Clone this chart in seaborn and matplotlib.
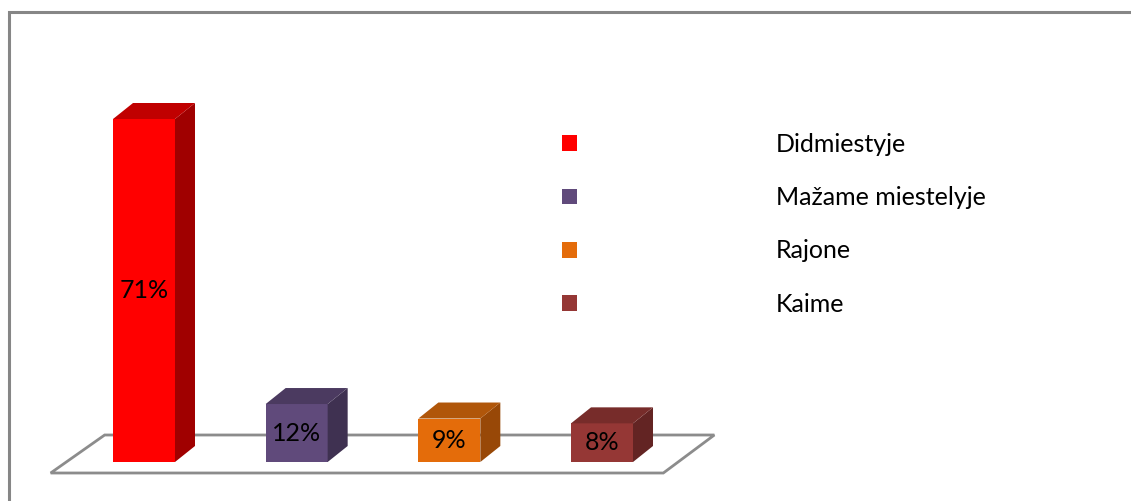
import matplotlib
matplotlib.use("Agg")
import matplotlib.pyplot as plt
import matplotlib.patches as mpatches
import matplotlib.transforms as mtransforms
import seaborn as sns

# ---- data ----
categories = ["Didmiestyje", "Mažame miestelyje", "Rajone", "Kaime"]
values = [71, 12, 9, 8]
labels = ["71%", "12%", "9%", "8%"]

# ---- styles ----
front_colors = ["#FF0000", "#604A7B", "#E46C0A", "#953735"]
side_colors = ["#A00000", "#3F3151", "#984807", "#632423"]
top_colors = ["#C00000", "#4B3A60", "#B0560A", "#772C2A"]

sns.set_theme(style="white")
plt.rcParams["font.family"] = ["Lato", "DejaVu Sans"]

W, H = 1131, 501
fig = plt.figure(figsize=(W / 100, H / 100), dpi=100)
step = 152.67
left_px = 144 - 0.5 * step
ppu = 343 / 71.0
ymax = 80
ax = fig.add_axes([left_px / W, 39 / H, 4 * step / W, ymax * ppu / H])
ax.set_zorder(2)
ax.patch.set_visible(False)

sns.barplot(x=categories, y=values, hue=categories, palette=front_colors,
            width=0.406, legend=False, ax=ax, saturation=1, zorder=3,
            edgecolor="none", linewidth=0)
ax.set_xlim(-0.5, 3.5)
ax.set_ylim(0, ymax)
ax.axis("off")

ident = mtransforms.IdentityTransform()
dx, dy = 20, 16
bars = ax.patches[:len(values)]
fs_lab = 18
for i, p in enumerate(bars):
    bb = p.get_window_extent()
    x0, x1, yb, yt = bb.x0, bb.x1, bb.y0, bb.y1
    side = mpatches.Polygon([(x1, yb), (x1 + dx, yb + dy), (x1 + dx, yt + dy), (x1, yt)],
                            closed=True, transform=ident, facecolor=side_colors[i],
                            edgecolor="none", zorder=3)
    top = mpatches.Polygon([(x0, yt), (x1, yt), (x1 + dx, yt + dy), (x0 + dx, yt + dy)],
                           closed=True, transform=ident, facecolor=top_colors[i],
                           edgecolor="none", zorder=3)
    ax.add_artist(side)
    ax.add_artist(top)
    ax.text(p.get_x() + p.get_width() / 2, values[i] / 2, labels[i],
            ha="center", va="center", fontsize=fs_lab, color="#000000", zorder=5)

# floor
abb = ax.get_window_extent()
fy = abb.y0 - 11
floor = mpatches.Polygon([(abb.x0 - 17, fy), (abb.x1 - 15, fy), (abb.x1 + 36, fy + 38),
                          (abb.x0 + 37, fy + 38)], closed=True, transform=ident,
                         facecolor="white", edgecolor="#8C8C8C", linewidth=2, zorder=1)
fig.add_artist(floor)

# chart frame (partly outside the figure)
frame = mpatches.Rectangle((9, -10), 1200, 499, transform=ident, facecolor="none",
                           edgecolor="#868686", linewidth=2.2, zorder=0)
fig.add_artist(frame)

# legend
handles = [mpatches.Patch(facecolor=c, edgecolor="none") for c in front_colors]
fs = 18
fpx = fs * 100 / 72
fig.legend(handles, categories, loc="upper left",
           bbox_to_anchor=(562 / W, 1 - 133 / H), frameon=False, fontsize=fs,
           handlelength=15 / fpx, handleheight=15 / fpx, handletextpad=199 / fpx,
           labelspacing=1.21, borderpad=0, borderaxespad=0, labelcolor="#000000")

fig.savefig("out.png", dpi=100)
